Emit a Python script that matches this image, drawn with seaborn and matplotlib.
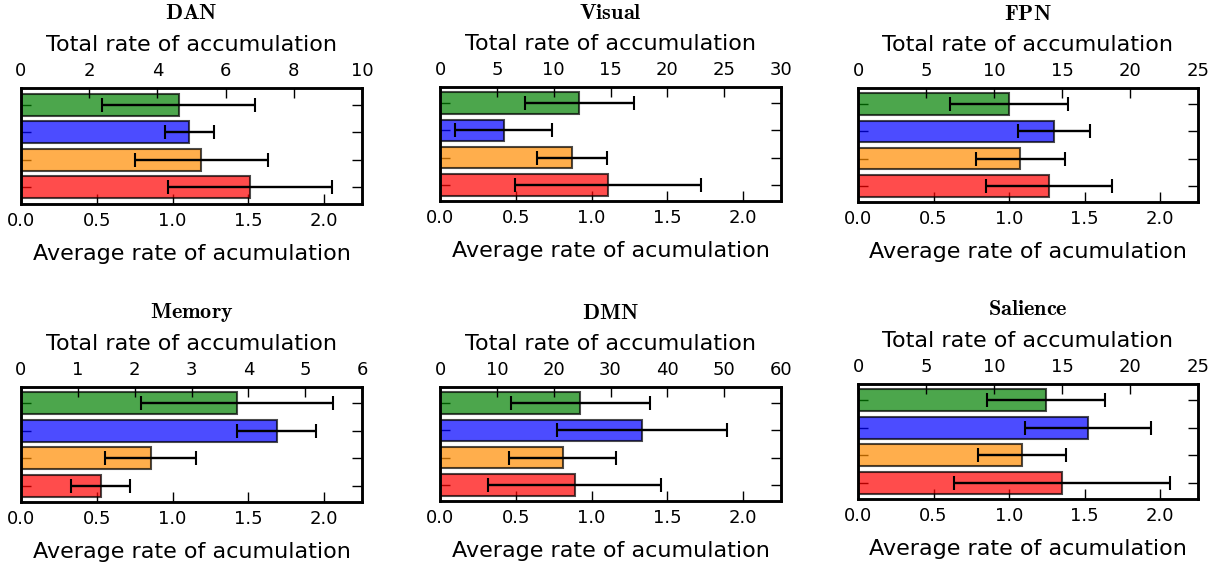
import numpy as np
import pandas as pd
import matplotlib
matplotlib.use("Agg")
import matplotlib.pyplot as plt
import seaborn as sns

sns.set_style("white")
plt.rcParams['font.family'] = ['DejaVu Sans']
plt.rcParams['mathtext.fontset'] = 'cm'
plt.rcParams['text.color'] = 'black'
plt.rcParams['axes.labelcolor'] = 'black'
plt.rcParams['xtick.color'] = 'black'
plt.rcParams['ytick.color'] = 'black'

# ---- data ----
panels = ["DAN", "Visual", "FPN", "Memory", "DMN", "Salience"]
groups = ["G1", "G2", "G3", "G4"]
colors = ["green", "blue", "darkorange", "red"]

dan_avg = [1.04, 1.11, 1.19, 1.51]
dan_err = [0.505, 0.163, 0.44, 0.54]
visual_avg = [0.92, 0.42, 0.87, 1.11]
visual_err = [0.36, 0.32, 0.23, 0.615]
fpn_avg = [1.00, 1.30, 1.075, 1.265]
fpn_err = [0.39, 0.238, 0.296, 0.416]
memory_avg = [1.426, 1.686, 0.855, 0.525]
memory_err = [0.633, 0.262, 0.298, 0.197]
dmn_avg = [0.925, 1.332, 0.809, 0.89]
dmn_err = [0.458, 0.559, 0.353, 0.571]
salience_avg = [1.244, 1.522, 1.086, 1.35]
salience_err = [0.39, 0.42, 0.29, 0.714]

top_max = [10, 30, 25, 6, 60, 25]
top_step = [2, 5, 5, 1, 10, 5]
bottom_ticks = [0.0, 0.5, 1.0, 1.5, 2.0]
bottom_max = 2.25

avgs = [dan_avg, visual_avg, fpn_avg, memory_avg, dmn_avg, salience_avg]
errs = [dan_err, visual_err, fpn_err, memory_err, dmn_err, salience_err]

# axes positions in pixels (left, top, right, bottom)
W, H = 1215, 567
pix = [(21, 88, 362, 204), (440, 87, 781, 201), (858, 88, 1198, 202),
       (21, 387, 362, 502), (440, 387, 781, 501), (858, 384, 1198, 499)]

fig = plt.figure(figsize=(W / 100, H / 100), dpi=100)

for i, name in enumerate(panels):
    l, t, r, b = pix[i]
    ax = fig.add_axes([l / W, 1 - b / H, (r - l) / W, (b - t) / H])
    df = pd.DataFrame({"group": groups, "avg": avgs[i], "err": errs[i]})
    sns.barplot(data=df, x="avg", y="group", hue="group", palette=colors,
                orient="h", errorbar=None, width=0.8, alpha=0.7, saturation=1,
                edgecolor="black", linewidth=1.5, legend=False, ax=ax)
    ypos = np.arange(len(groups))
    ax.errorbar(df["avg"], ypos, xerr=df["err"], fmt="none", ecolor="black",
                elinewidth=1.7, capsize=5, capthick=1.5)
    ax.set_xlim(0, bottom_max)
    ax.set_ylim(len(groups) - 0.4, -0.6)
    ax.set_xticks(bottom_ticks)
    ax.set_xticklabels([f"{v:.1f}" for v in bottom_ticks])
    ax.set_yticks(ypos)
    ax.set_yticklabels([])
    ax.set_ylabel("")
    ax.set_xlabel("Average rate of acumulation", fontsize=16, labelpad=10)
    ax.tick_params(axis="x", direction="in", length=7, width=1, labelsize=13,
                   bottom=True, top=False, pad=6)
    ax.tick_params(axis="y", direction="in", length=7, width=1,
                   left=True, right=True)
    for s in ax.spines.values():
        s.set_linewidth(1.8)
        s.set_color("black")

    ax2 = ax.twiny()
    ax2.set_xlim(0, top_max[i])
    ax2.set_xticks(np.arange(0, top_max[i] + 0.001, top_step[i]))
    ax2.set_xlabel("Total rate of accumulation", fontsize=16, labelpad=8)
    ax2.tick_params(axis="x", direction="in", length=7, width=1, labelsize=13,
                    pad=6)
    for s in ax2.spines.values():
        s.set_linewidth(1.8)
        s.set_color("black")
    ax.text(0.5, 1.65, r"$\mathbf{" + name + "}$", transform=ax.transAxes,
            ha="center", va="center", fontsize=16)

fig.savefig("out.png", dpi=100)
